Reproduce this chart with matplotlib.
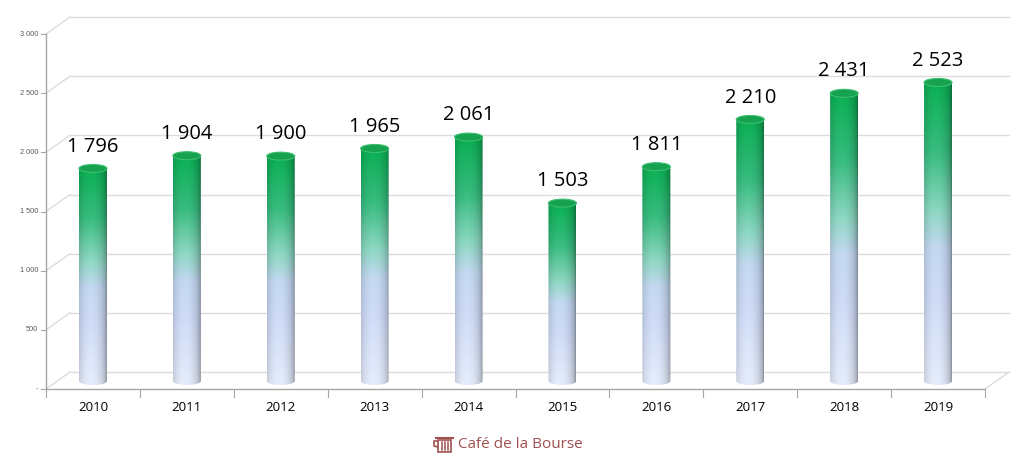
import matplotlib.pyplot as plt
import numpy as np
from matplotlib.patches import Ellipse, Polygon, Rectangle

years = ['2010', '2011', '2012', '2013', '2014', '2015', '2016', '2017', '2018', '2019']
values = [1796, 1904, 1900, 1965, 2061, 1503, 1811, 2210, 2431, 2523]
yticks = [0, 500, 1000, 1500, 2000, 2500, 3000]
ytick_labels = ['-', '500', '1 000', '1 500', '2 000', '2 500', '3 000']

W, H = 1024, 470
fig = plt.figure(figsize=(W / 100, H / 100), dpi=100)
ax = fig.add_axes([0, 0, 1, 1])

# pixel geometry of the front plane: x=-0.5 at px 46, x=9.5 at px 985, y=0 at px 389, y=3000 at px 34
sx = (985 - 46) / 10.0
sy = (389 - 34) / 3000.0
ax.axis('off')

# 3D depth offsets
dx = 24 / sx
dy = 17 / sy
base = 8 / sy          # bars stand a bit behind the front edge
bw = 28 / sx           # cylinder width
eh = 8 / sy            # ellipse height of caps

grid_c = '#dcdcdc'
axis_c = '#a6a6a6'
x0, x1 = -0.5, len(years) - 0.5

# back wall gridlines + diagonals to front axis
for v, lab in zip(yticks, ytick_labels):
    ax.plot([x0, x0 + dx], [v, v + dy], color=grid_c, lw=1, zorder=1)
    if v > 0:
        ax.plot([x0 + dx, x1 + dx], [v + dy, v + dy], color=grid_c, lw=1, zorder=1)
    ax.plot([x0 - 5 / sx, x0], [v, v], color=axis_c, lw=0.8, zorder=2)
    ax.text(x0 - 8 / sx, v, lab, ha='right', va='center',
            fontsize=5.3, color='#595959', family='Liberation Sans')

# floor
ax.plot([x0 + dx, x1 + dx], [dy, dy], color=grid_c, lw=1, zorder=1)
ax.plot([x1, x1 + dx], [0, dy], color=grid_c, lw=1, zorder=1)
ax.plot([x0, x0], [0, 3000], color=axis_c, lw=1, zorder=2)
ax.plot([x0, x1], [0, 0], color=axis_c, lw=1, zorder=2)
for i in range(len(years) + 1):
    ax.plot([x0 + i, x0 + i], [0, -8 / sy], color=axis_c, lw=0.8, zorder=2)

# colour stops along the cylinder (fraction from bottom)
stops = np.array([0.0, 0.3, 0.45, 0.57, 0.77, 1.0])
cols = np.array([
    [0.90, 0.93, 0.99],
    [0.81, 0.86, 0.97],
    [0.77, 0.85, 0.95],
    [0.56, 0.85, 0.77],
    [0.22, 0.74, 0.50],
    [0.04, 0.69, 0.33],
])

ny, nx = 200, 60
u = np.linspace(-1, 1, nx)
shade = 0.58 + 0.42 * np.clip(1 - ((u + 0.15) / 1.15) ** 2, 0, 1) ** 0.5

for i, (yr, v) in enumerate(zip(years, values)):
    top = base + v
    f = np.linspace(0, 1, ny)
    rgb = np.stack([np.interp(f, stops, cols[:, k]) for k in range(3)], axis=1)
    img = np.clip(rgb[:, None, :] * shade[None, :, None], 0, 1)
    im = ax.imshow(img, origin='lower', aspect='auto', interpolation='bilinear',
                   extent=[i - bw / 2, i + bw / 2, base - eh / 2, top], zorder=3)
    t = np.linspace(np.pi, 2 * np.pi, 40)
    bottom = np.column_stack([i + bw / 2 * np.cos(t), base + eh / 2 * np.sin(t)])
    outline = np.vstack([[[i - bw / 2, top]], bottom, [[i + bw / 2, top]]])
    clip = Polygon(outline, closed=True, transform=ax.transData, fill=False, lw=0)
    ax.add_patch(clip)
    im.set_clip_path(clip)
    ax.add_patch(Ellipse((i, top), bw, eh, facecolor='#17a24f', edgecolor='#3cbf6e',
                         lw=0.8, zorder=4))
    ax.text(i, top + 185, f'{v:,}'.replace(',', ' '), ha='center', va='center',
            fontsize=14.5, color='black', family='Open Sans', zorder=5)
    ax.text(i, -160, yr, ha='center', va='center', fontsize=9.5, color='black',
            family='Open Sans')

ax.set_xlim(-0.5 - 46 / sx, 9.5 + (W - 985) / sx)
ax.set_ylim(-(H - 389) / sy, 3000 + 34 / sy)

# logo
brand = '#a0504f'
fig.text(458 / W, 1 - 445 / H, 'Café de la Bourse', ha='left', va='center',
         fontsize=11, color=brand, family='Open Sans')
fig.patches.append(Rectangle((438 / W, 1 - 452 / H), 13 / W, 12 / H, transform=fig.transFigure,
                             facecolor='none', edgecolor=brand, lw=1.2))
for xx in [441.5, 444.5, 447.5]:
    fig.lines.append(plt.Line2D([xx / W, xx / W], [1 - 450 / H, 1 - 442 / H],
                                transform=fig.transFigure, color=brand, lw=1.1))
fig.lines.append(plt.Line2D([436 / W, 453 / W], [1 - 438 / H, 1 - 438 / H],
                            transform=fig.transFigure, color=brand, lw=1.5))
fig.lines.append(plt.Line2D([438 / W, 434 / W, 434 / W, 438 / W],
                            [1 - 441 / H, 1 - 441 / H, 1 - 446 / H, 1 - 447 / H],
                            transform=fig.transFigure, color=brand, lw=1.2))

fig.savefig('out.png', dpi=100, facecolor='white')
